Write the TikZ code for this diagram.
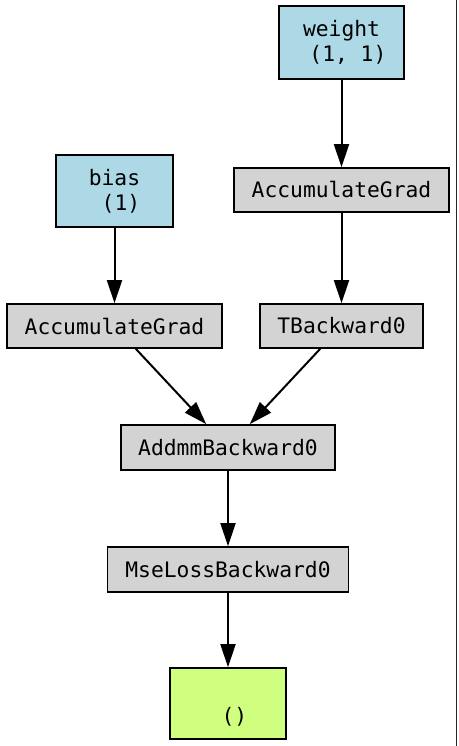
\documentclass[tikz,border=0pt]{standalone}
\usepackage{fontspec}
\setmonofont{DejaVu Sans Mono}
\usetikzlibrary{arrows.meta}
\definecolor{paramblue}{RGB}{173,216,230}
\definecolor{opgray}{RGB}{211,211,211}
\definecolor{outgreen}{RGB}{208,255,128}
\definecolor{rulegray}{RGB}{40,40,40}
\tikzset{
  gbox/.style={draw=black, line width=1.7pt, inner sep=0pt, align=center,
    font=\ttfamily\fontsize{21.3}{25}\selectfont},
  parambox/.style={gbox, fill=paramblue},
  opbox/.style={gbox, fill=opgray, minimum height=44pt},
  outbox/.style={gbox, fill=outgreen},
  edge/.style={draw=black, line width=2pt, -{Triangle[length=23pt,width=15pt]}}
}
\begin{document}
\begin{tikzpicture}[x=1pt,y=-1pt]
\useasboundingbox (0,0) rectangle (458,746);
\fill[white] (0,0) rectangle (458,746);
\draw[rulegray, line width=1.5pt] (456.5,0) -- (456.5,746);
\node[parambox, minimum width=125pt, minimum height=73pt] (weight) at (341.5,42.5) {weight\\\hphantom{0}(1, 1)};
\node[opbox, minimum width=215pt] (accR) at (341.5,190) {AccumulateGrad};
\node[parambox, minimum width=117pt, minimum height=72pt] (bias) at (114.5,191) {bias\\\hphantom{0}(1)};
\node[opbox, minimum width=215pt] (accL) at (114.5,326) {AccumulateGrad};
\node[opbox, minimum width=163pt] (tback) at (341.5,326) {TBackward0};
\node[opbox, minimum width=214pt, minimum height=45pt] (addmm) at (228,447.5) {AddmmBackward0};
\node[opbox, minimum width=241pt, minimum height=45pt] (mse) at (228,569.5) {MseLossBackward0};
\node[outbox, minimum width=116pt, minimum height=71pt] (out) at (228,703.5) {\strut\\\hphantom{0}()};
\draw[edge] (weight) -- (accR);
\draw[edge] (accR) -- (tback);
\draw[edge] (bias) -- (accL);
\draw[edge] (accL) -- (addmm);
\draw[edge] (tback) -- (addmm);
\draw[edge] (addmm) -- (mse);
\draw[edge] (mse) -- (out);
\end{tikzpicture}
\end{document}
